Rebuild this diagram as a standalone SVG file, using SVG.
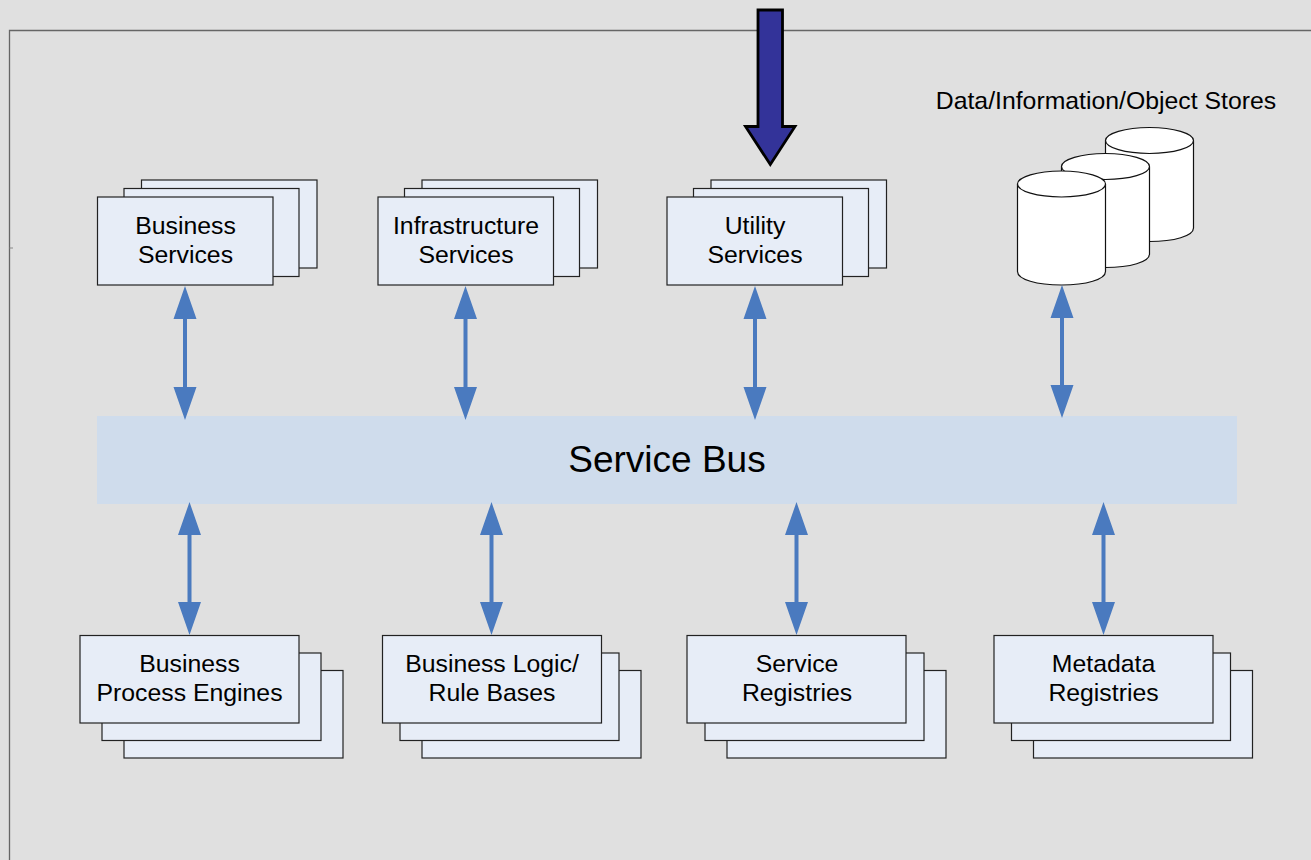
<svg xmlns="http://www.w3.org/2000/svg" width="1311" height="860" viewBox="0 0 1311 860">
<style>
.b{fill:#e7edf7;stroke:#222;stroke-width:1.2}
.t{font-family:"Liberation Sans",Arial,sans-serif;font-size:24.8px;fill:#000;text-anchor:middle}
.l{stroke:#4a7abf;stroke-width:4;fill:none}
.h{fill:#4a7abf}
.c{fill:#fff;stroke:#111;stroke-width:1.2}
</style>
<rect width="1311" height="860" fill="#e0e0e0"/>
<path d="M1311 30.5H9.5V860" fill="none" stroke="#666" stroke-width="1.3"/>
<path d="M9.5 248H13" fill="none" stroke="#888" stroke-width="1"/>

<g id="business-services">
<rect class="b" x="141.500" y="180" width="175.500" height="88"/><rect class="b" x="124" y="188.500" width="175" height="88"/><rect class="b" x="97.500" y="197" width="175.500" height="88"/>
<text class="t" x="185.500" y="234">Business</text><text class="t" x="185.500" y="263">Services</text></g>
<g id="infrastructure-services">
<rect class="b" x="422" y="180" width="175.500" height="88"/><rect class="b" x="404.500" y="188.500" width="175" height="88"/><rect class="b" x="378" y="197" width="175.500" height="88"/>
<text class="t" x="466" y="234">Infrastructure</text><text class="t" x="466" y="263">Services</text></g>
<g id="utility-services">
<rect class="b" x="711" y="180" width="175.500" height="88"/><rect class="b" x="693.500" y="188.500" width="175" height="88"/><rect class="b" x="667" y="197" width="175.500" height="88"/>
<text class="t" x="755" y="234">Utility</text><text class="t" x="755" y="263">Services</text></g>

<g id="data-stores">
<text class="t" x="1106" y="108.500">Data/Information/Object Stores</text>
<path class="c" d="M1105.500 140.500V228C1105.500 236 1125 241.500 1149.500 241.500S1193.500 236 1193.500 228V140.500"/>
<ellipse class="c" cx="1149.500" cy="140.500" rx="44" ry="13"/>
<path class="c" d="M1061.500 166.500V254C1061.500 262 1081 267.500 1105.500 267.500S1149.500 262 1149.500 254V166.500"/>
<ellipse class="c" cx="1105.500" cy="166.500" rx="44" ry="13"/>
<path class="c" d="M1017.500 184V271.500C1017.500 279.500 1037 285 1061.500 285S1105.500 279.500 1105.500 271.500V184"/>
<ellipse class="c" cx="1061.500" cy="184" rx="44" ry="13"/>
</g>

<g id="service-bus">
<rect x="97" y="416" width="1140" height="88" fill="#cfdcec"/>
<text x="667" y="472" font-family="'Liberation Sans',Arial,sans-serif" font-size="37" text-anchor="middle" fill="#000">Service Bus</text>
</g>

<g id="business-process-engines">
<rect class="b" x="124" y="670.500" width="219" height="87.500"/><rect class="b" x="102" y="653" width="219" height="87.500"/><rect class="b" x="80" y="635.500" width="219" height="87.500"/>
<text class="t" x="189.500" y="672">Business</text><text class="t" x="189.500" y="701">Process Engines</text></g>
<g id="business-logic">
<rect class="b" x="422" y="670.500" width="219" height="87.500"/><rect class="b" x="400" y="653" width="219" height="87.500"/><rect class="b" x="382.500" y="635.500" width="219" height="87.500"/>
<text class="t" x="492" y="672">Business Logic/</text><text class="t" x="492" y="701">Rule Bases</text></g>
<g id="service-registries">
<rect class="b" x="727" y="670.500" width="219" height="87.500"/><rect class="b" x="705" y="653" width="219" height="87.500"/><rect class="b" x="687" y="635.500" width="219" height="87.500"/>
<text class="t" x="797" y="672">Service</text><text class="t" x="797" y="701">Registries</text></g>
<g id="metadata-registries">
<rect class="b" x="1033.500" y="670.500" width="219" height="87.500"/><rect class="b" x="1011.500" y="653" width="219" height="87.500"/><rect class="b" x="994" y="635.500" width="219" height="87.500"/>
<text class="t" x="1103.500" y="672">Metadata</text><text class="t" x="1103.500" y="701">Registries</text></g>

<g id="connectors">
<path class="l" d="M185 315V390"/><path class="h" d="M185 286l11.500 33h-23zM185 420l11.500-33h-23z"/>
<path class="l" d="M465.500 315V390"/><path class="h" d="M465.500 286l11.500 33h-23zM465.500 420l11.500-33h-23z"/>
<path class="l" d="M755 315V390"/><path class="h" d="M755 286l11.500 33h-23zM755 420l11.500-33h-23z"/>
<path class="l" d="M1062 315V388"/><path class="h" d="M1062 285l11.500 33h-23zM1062 418l11.500-33h-23z"/>
<path class="l" d="M189.500 532V606"/><path class="h" d="M189.500 502l11.500 33h-23zM189.500 635l11.500-33h-23z"/>
<path class="l" d="M491.500 532V606"/><path class="h" d="M491.500 502l11.500 33h-23zM491.500 635l11.500-33h-23z"/>
<path class="l" d="M796.500 532V606"/><path class="h" d="M796.500 502l11.500 33h-23zM796.500 635l11.500-33h-23z"/>
<path class="l" d="M1103.500 532V606"/><path class="h" d="M1103.500 502l11.500 33h-23zM1103.500 635l11.500-33h-23z"/>
</g>

<g id="input-arrow">
<path d="M758 10H782.500V126.500H795L770.300 164.500L745.500 126.500H758Z" fill="#333399" stroke="#000" stroke-width="2.800"/>
</g>
</svg>
